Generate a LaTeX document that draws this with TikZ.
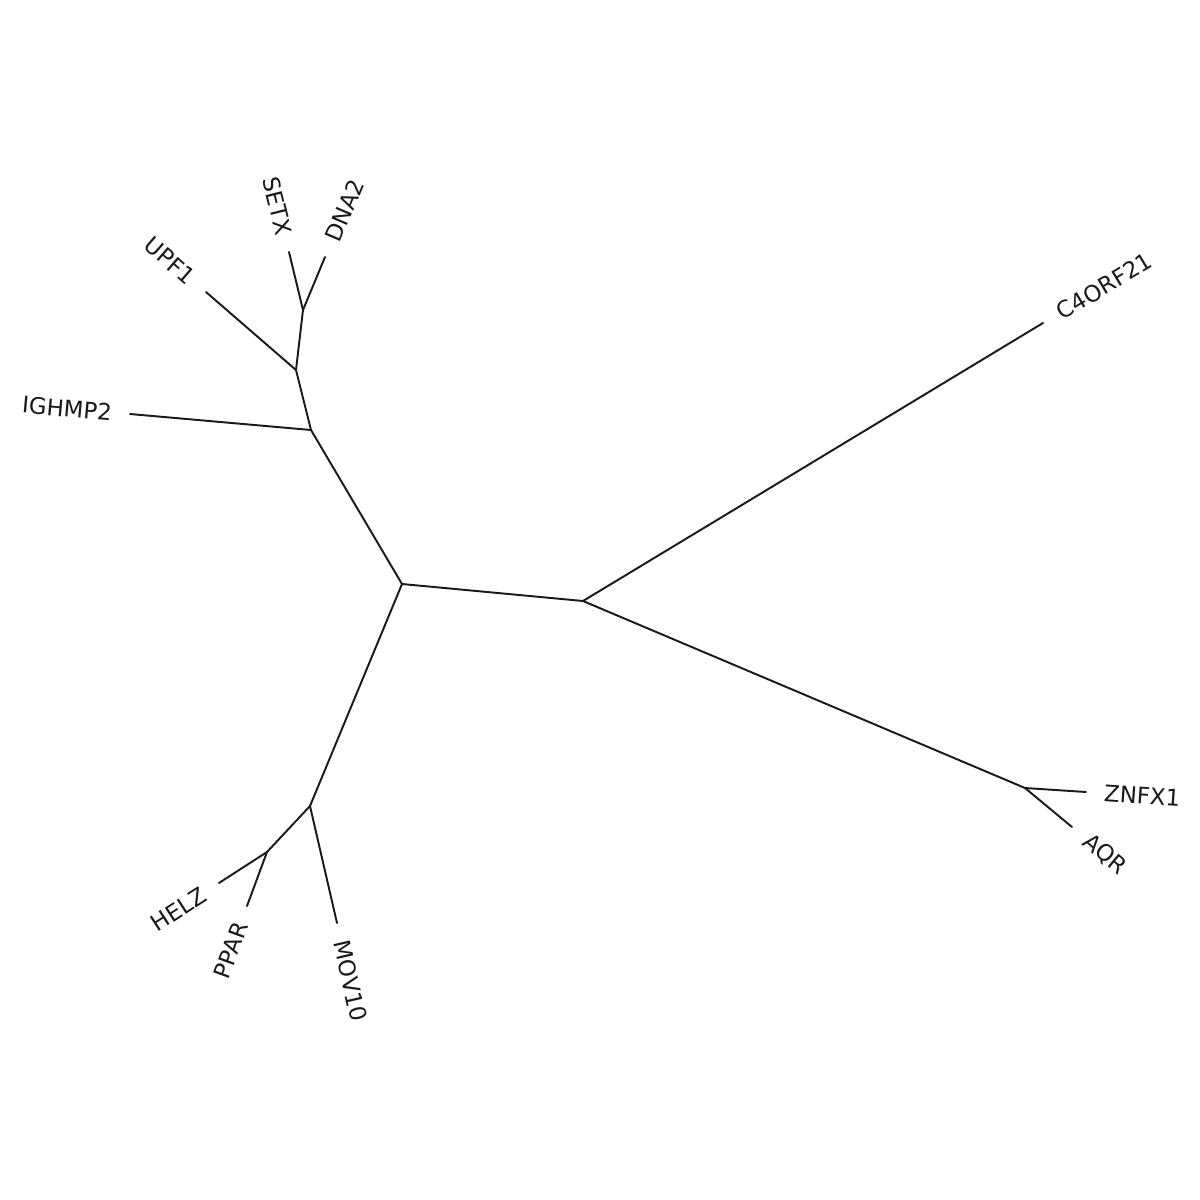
\documentclass[tikz,border=0pt]{standalone}
\usepackage{fontspec}
\setmainfont{DejaVu Sans}
\usepackage{tikz}
\usetikzlibrary{calc,positioning}

\tikzset{
  branch/.style={line width=0.55pt, color=black!90},
  leaf/.style={font=\fontsize{6.5}{7.5}\selectfont, text=black!90, inner sep=5pt},
}

\begin{document}
\begin{tikzpicture}[line cap=round,line join=round,x=0.01cm,y=-0.01cm]
\useasboundingbox (0,0) rectangle (1200,1200);
% inner nodes
\coordinate (A) at (402,584); \coordinate (B) at (583,601);
\coordinate (D) at (311,430); \coordinate (E) at (296,370); \coordinate (F) at (303,310);
\coordinate (G) at (310,806); \coordinate (H) at (267,852);
\coordinate (I) at (1025,788);
% tips
\coordinate (c4) at (1043,323); \coordinate (zn) at (1086,792); \coordinate (aq) at (1072,827);
\coordinate (ig) at (130,414); \coordinate (up) at (206,292);
\coordinate (se) at (289,252); \coordinate (dn) at (325,257);
\coordinate (mo) at (337,923); \coordinate (he) at (219,883); \coordinate (pp) at (247,906);

\draw[branch] (A) -- (B);
\draw[branch] (A) -- (D);
\draw[branch] (A) -- (G);
\draw[branch] (B) -- (c4);
\draw[branch] (B) -- (I);
\draw[branch] (I) -- (zn);
\draw[branch] (I) -- (aq);
\draw[branch] (D) -- (ig);
\draw[branch] (D) -- (E);
\draw[branch] (E) -- (up);
\draw[branch] (E) -- (F);
\draw[branch] (F) -- (se);
\draw[branch] (F) -- (dn);
\draw[branch] (G) -- (H);
\draw[branch] (G) -- (mo);
\draw[branch] (H) -- (he);
\draw[branch] (H) -- (pp);

% labels
\node[leaf, anchor=west, rotate=31] (lc4) at (c4) {C4ORF21};
\node[leaf, anchor=west, rotate=-4] (lzn) at (zn) {ZNFX1};
\node[leaf, anchor=west, rotate=-40] (laq) at (aq) {AQR};
\node[leaf, anchor=east, rotate=-5] (lig) at (ig) {IGHMP2};
\node[leaf, anchor=east, rotate=-41] (lup) at (up) {UPF1};
\node[leaf, anchor=east, rotate=-76] (lse) at (se) {SETX};
\node[leaf, anchor=west, rotate=67] (ldn) at (dn) {DNA2};
\node[leaf, anchor=west, rotate=-77] (lmo) at (mo) {MOV10};
\node[leaf, anchor=east, rotate=33] (lhe) at (he) {HELZ};
\node[leaf, anchor=east, rotate=70] (lpp) at (pp) {PPAR};
\end{tikzpicture}
\end{document}
